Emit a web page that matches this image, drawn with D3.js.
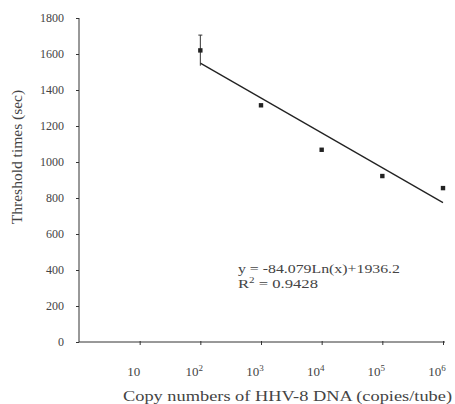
<!DOCTYPE html>
<html>
<head>
<meta charset="utf-8">
<script src="https://cdn.jsdelivr.net/npm/d3@7"></script>
<style>
  body { margin: 0; background: #fff; }
  text { font-family: "Liberation Serif", "DejaVu Serif", serif; fill: #444; }
</style>
</head>
<body>
<svg width="455" height="404"></svg>
<script>
// data
var copies = [1e2, 1e3, 1e4, 1e5, 1e6];
var times = [1620, 1315, 1068, 922, 855];
var errors = [85, 0, 0, 0, 0];
var xTicks = [10, 1e2, 1e3, 1e4, 1e5, 1e6];
var xTickExp = ['', '2', '3', '4', '5', '6'];
var yTicks = [0, 200, 400, 600, 800, 1000, 1200, 1400, 1600, 1800];
var fitA = -84.079, fitB = 1936.2;

var svg = d3.select('svg');
var ink = '#333';

var x = d3.scaleLog()
    .domain([1, 1e6])
    .range([79, 443]);
var y = d3.scaleLinear()
    .domain([0, 1800])
    .range([342, 18]);

// y axis
var yAxis = svg.append('g')
    .attr('transform', 'translate(79,0)')
    .call(d3.axisLeft(y).tickValues(yTicks).tickSize(3).tickPadding(12).tickFormat(d3.format('d')));
yAxis.select('.domain').attr('stroke', ink).attr('d', 'M0,18V342');
yAxis.selectAll('.tick line').attr('stroke', ink);
yAxis.selectAll('.tick text')
    .attr('font-size', 12)
    .attr('font-family', '"Liberation Serif", serif')
    .attr('fill', '#444');

// x axis
var xAxis = svg.append('g')
    .attr('transform', 'translate(0,342)')
    .call(d3.axisBottom(x).tickValues(xTicks).tickSize(3).tickFormat(''));
xAxis.select('.domain').attr('stroke', ink).attr('d', 'M79,0H445');
xAxis.selectAll('.tick line').attr('stroke', ink).attr('y1', -1);

var lbl = svg.append('g').selectAll('text')
    .data(xTicks)
    .enter()
    .append('text')
    .attr('x', function (d) { return x(d) - 6; })
    .attr('y', 376)
    .attr('text-anchor', 'middle')
    .attr('font-size', 13);
lbl.append('tspan').text('10');
lbl.append('tspan')
    .attr('font-size', 9)
    .attr('dy', -5)
    .text(function (d, i) { return xTickExp[i]; });

// axis titles
svg.append('text')
    .attr('x', 123)
    .attr('y', 401)
    .attr('font-size', 14.5)
    .attr('textLength', 329)
    .attr('lengthAdjust', 'spacingAndGlyphs')
    .text('Copy numbers of HHV-8 DNA (copies/tube)');
svg.append('text')
    .attr('transform', 'translate(22,157) rotate(-90)')
    .attr('text-anchor', 'middle')
    .attr('font-size', 15.5)
    .text('Threshold times (sec)');

// trend line
var fitX = [1e2, 1e6];
svg.append('path')
    .datum(fitX)
    .attr('fill', 'none')
    .attr('stroke', '#222')
    .attr('stroke-width', 1.3)
    .attr('d', d3.line()
        .x(function (d) { return x(d); })
        .y(function (d) { return y(fitA * Math.log(d) + fitB); }));

// error bars
var eb = svg.append('g').selectAll('g')
    .data(copies.filter(function (d, i) { return errors[i] > 0; }))
    .enter()
    .append('g')
    .attr('stroke', ink)
    .attr('stroke-width', 1);
eb.append('line')
    .attr('x1', function (d) { return x(d); })
    .attr('x2', function (d) { return x(d); })
    .attr('y1', function (d) { var i = copies.indexOf(d); return y(times[i] + errors[i]); })
    .attr('y2', function (d) { var i = copies.indexOf(d); return y(times[i] - errors[i]); });
eb.append('line')
    .attr('x1', function (d) { return x(d) - 2; })
    .attr('x2', function (d) { return x(d) + 2; })
    .attr('y1', function (d) { var i = copies.indexOf(d); return y(times[i] + errors[i]); })
    .attr('y2', function (d) { var i = copies.indexOf(d); return y(times[i] + errors[i]); });

// points
svg.append('g').selectAll('rect')
    .data(copies)
    .enter()
    .append('rect')
    .attr('x', function (d) { return x(d) - 2.2; })
    .attr('y', function (d, i) { return y(times[i]) - 2.2; })
    .attr('width', 4.4)
    .attr('height', 4.4)
    .attr('fill', '#222');

// equation
svg.append('text')
    .attr('x', 238)
    .attr('y', 273)
    .attr('font-size', 13.5)
    .attr('textLength', 162)
    .attr('lengthAdjust', 'spacingAndGlyphs')
    .text('y = -84.079Ln(x)+1936.2');
var r2 = svg.append('text')
    .attr('x', 238)
    .attr('y', 288)
    .attr('font-size', 13.5)
    .attr('textLength', 80)
    .attr('lengthAdjust', 'spacingAndGlyphs');
r2.append('tspan').text('R');
r2.append('tspan').attr('font-size', 9).attr('dy', -5).text('2');
r2.append('tspan').attr('dy', 5).text(' = 0.9428');
</script>
</body>
</html>
